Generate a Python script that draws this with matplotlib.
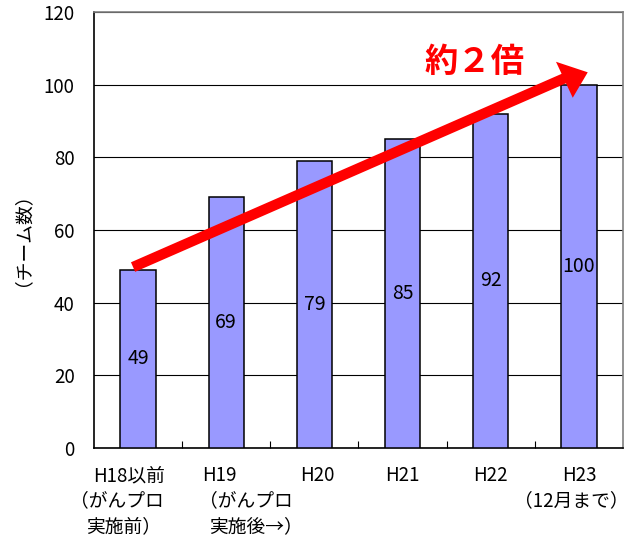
import matplotlib
matplotlib.use("Agg")
import matplotlib.pyplot as plt
from matplotlib.patches import Polygon

plt.rcParams['font.family'] = ['Noto Sans CJK JP', 'DejaVu Sans']

categories = ["H18以前\n（がんプロ\n実施前）", "H19\n（がんプロ\n実施後→）", "H20", "H21", "H22", "H23\n（12月まで）"]
values = [49, 69, 79, 85, 92, 100]
y_ticks = [0, 20, 40, 60, 80, 100, 120]
ylabel = "（チーム数）"
annotation = "約２倍"

# arrow (annotation) geometry in data units
arrow_start = (-0.057, 49.8)
arrow_end = (4.84, 101.8)
arrow_head = [(4.74, 106.3), (5.10, 103.4), (4.93, 96.4)]

fig = plt.figure(figsize=(6.41, 5.38), dpi=100)
ax = fig.add_axes([94/641, 1-448/538, (623-94)/641, (448-12)/538])

x = list(range(len(values)))
ax.bar(x, values, width=0.40, color="#9999FF", edgecolor="black", linewidth=1.1, zorder=3)
for xi, v in zip(x, values):
    ax.text(xi, v/2, str(v), ha="center", va="center", fontsize=14, zorder=4)

ax.set_xlim(-0.5, len(values)-0.5)
ax.set_ylim(0, 120)
ax.set_yticks(y_ticks)
ax.set_yticklabels([str(t) for t in y_ticks], fontsize=13.5)
ax.yaxis.grid(True, color="black", linewidth=0.8, zorder=0)
ax.set_axisbelow(True)
ax.tick_params(axis="y", length=0, pad=14)
ax.set_xticks([i + 0.5 for i in range(len(values)-1)])
ax.set_xticklabels([])
ax.tick_params(axis="x", direction="in", length=5, color="black")
for s in ax.spines.values():
    s.set_color("#808080")
    s.set_linewidth(1.2)
ax.spines["left"].set_color("black")
ax.spines["bottom"].set_color("black")

# category labels, drawn line by line
px_per_cat = 529 / 6.0
line_y = [-0.064, -0.121, -0.180]
# (alignment, x offset in category units) for each line of each label
line_pos = [
    [("left", (93-138)/px_per_cat), ("left", (70-138)/px_per_cat), ("left", (86-138)/px_per_cat)],
    [("left", (202-226)/px_per_cat), ("left", (199-226)/px_per_cat), ("left", (209-226)/px_per_cat)],
    [("center", 0.03)],
    [("center", 0.0)],
    [("center", 0.0)],
    [("center", 0.0), ("center", -0.09)],
]
for i, lab in enumerate(categories):
    for j, line in enumerate(lab.split("\n")):
        ha, off = line_pos[i][j]
        ax.text(i + off, line_y[j], line, transform=ax.get_xaxis_transform(),
                ha=ha, va="center", fontsize=13.5)

ax.set_ylabel(ylabel, fontsize=13.5)
ax.yaxis.label.set_verticalalignment("center")
ax.yaxis.set_label_coords((13-94)/529, 0.5)

# red arrow
ax.plot([arrow_start[0], arrow_end[0]], [arrow_start[1], arrow_end[1]],
        color="#FF0000", linewidth=7.5, solid_capstyle="butt", zorder=5)
ax.add_patch(Polygon(arrow_head, closed=True, facecolor="#FF0000", edgecolor="none", zorder=5))
ax.text(3.82, 106.2, annotation, color="#FF0000", fontsize=24, fontweight="bold",
        ha="center", va="center", zorder=6)

fig.savefig("out.png", dpi=100)
